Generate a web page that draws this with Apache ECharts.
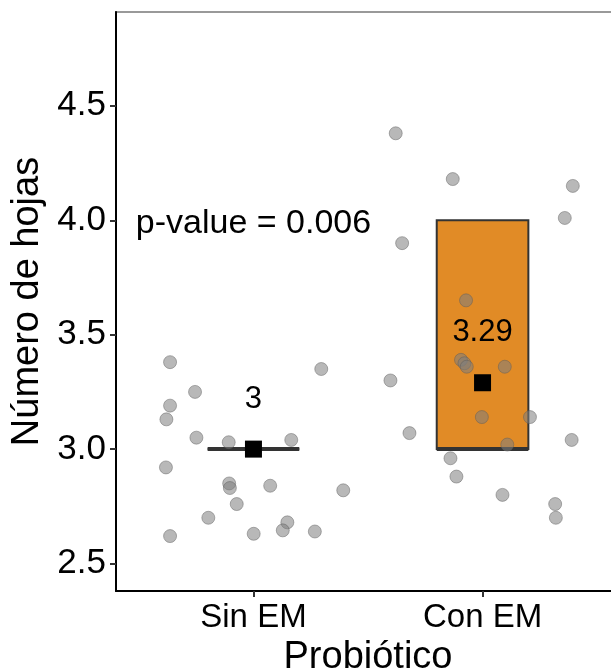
<!DOCTYPE html>
<html>
<head>
<meta charset="utf-8">
<script src="https://cdn.jsdelivr.net/npm/echarts@6/dist/echarts.min.js"></script>
<style>
  html, body { margin: 0; padding: 0; background: #fff; }
  #chart { width: 611px; height: 670px; }
</style>
</head>
<body>
<div id="chart"></div>
<script>
const categories = ["Sin EM", "Con EM"];
const yTicks = [2.5, 3.0, 3.5, 4.0, 4.5];

// jittered observations: [x position (1 = Sin EM, 2 = Con EM), value]
const sinEmPoints = [
  [0.636, 3.38], [1.296, 3.35], [0.745, 3.25], [0.636, 3.19], [0.620, 3.13],
  [0.751, 3.05], [0.892, 3.03], [1.165, 3.04], [0.618, 2.92], [0.894, 2.85],
  [0.897, 2.83], [1.073, 2.84], [1.392, 2.82], [0.927, 2.76], [0.803, 2.70],
  [0.636, 2.62], [1.001, 2.63], [1.148, 2.68], [1.128, 2.645], [1.268, 2.64]
];
const conEmPoints = [
  [1.621, 4.38], [1.870, 4.18], [2.394, 4.15], [2.359, 4.01], [1.649, 3.90],
  [1.928, 3.65], [1.906, 3.39], [1.921, 3.375], [1.931, 3.36], [2.097, 3.36],
  [1.598, 3.30], [1.997, 3.14], [2.207, 3.14], [1.681, 3.07], [2.389, 3.04],
  [2.108, 3.02], [1.860, 2.96], [1.886, 2.88], [2.087, 2.80], [2.317, 2.76],
  [2.320, 2.70]
];

// box stats: [x, q1, median, q3]
const boxStats = [[1, 3, 3, 3], [2, 3, 3, 4]];
const boxFill = ["#ffffff", "#E18B26"];
// group means
const means = [[1, 3], [2, 3.29]];
const pValueText = "p-value = 0.006";

const chart = echarts.init(document.getElementById("chart"));

chart.setOption({
  animation: false,
  textStyle: { fontFamily: "Liberation Sans, Arial, sans-serif" },
  // plot panel runs past the right edge of the picture (cropped)
  grid: {
    left: 116, top: 12, width: 504, bottom: 79,
    outerBoundsMode: "none",
    containLabel: false,
    show: true, borderColor: "#999", borderWidth: 2
  },
  xAxis: {
    type: "value",
    min: 0.4, max: 2.6,
    name: "Probiótico",
    nameLocation: "middle",
    nameGap: 37,
    nameTextStyle: { fontSize: 38, color: "#000" },
    splitLine: { show: false },
    axisLine: { lineStyle: { color: "#000", width: 2 } },
    axisTick: { customValues: [1, 2], length: 6, lineStyle: { color: "#333", width: 2 } },
    axisLabel: {
      customValues: [1, 2],
      formatter: v => categories[Math.round(v) - 1],
      fontSize: 33, color: "#000", margin: 10
    }
  },
  yAxis: {
    type: "value",
    min: 2.38, max: 4.91,
    name: "Número de hojas",
    nameLocation: "middle",
    nameGap: 52,
    nameTextStyle: { fontSize: 38, color: "#000" },
    splitLine: { show: false },
    axisLine: { lineStyle: { color: "#000", width: 2 } },
    axisTick: { customValues: yTicks, length: 6, lineStyle: { color: "#333", width: 2 } },
    axisLabel: {
      customValues: yTicks,
      formatter: v => v.toFixed(1),
      fontSize: 35, color: "#000", margin: 10
    }
  },
  series: [
    {
      type: "custom",
      z: 1,
      data: boxStats,
      renderItem: function (params, api) {
        const x = api.value(0), q1 = api.value(1), med = api.value(2), q3 = api.value(3);
        const hw = 0.2;
        const tl = api.coord([x - hw, q3]);
        const br = api.coord([x + hw, q1]);
        const ml = api.coord([x - hw, med]);
        const mr = api.coord([x + hw, med]);
        return {
          type: "group",
          children: [
            {
              type: "rect",
              shape: { x: tl[0], y: tl[1], width: br[0] - tl[0], height: br[1] - tl[1] },
              style: { fill: boxFill[params.dataIndex], stroke: "#333", lineWidth: 2 }
            },
            {
              type: "line",
              shape: { x1: ml[0], y1: ml[1], x2: mr[0], y2: mr[1] },
              style: { stroke: "#333", lineWidth: 4 }
            }
          ]
        };
      }
    },
    {
      type: "scatter",
      z: 2,
      symbolSize: 13,
      itemStyle: {
        opacity: 1,
        color: "rgba(125,125,125,0.55)",
        borderColor: "rgba(90,90,90,0.45)",
        borderWidth: 1
      },
      data: sinEmPoints.concat(conEmPoints)
    },
    {
      type: "scatter",
      z: 3,
      symbol: "rect",
      symbolSize: 17,
      itemStyle: { color: "#000", opacity: 1 },
      label: {
        show: true,
        position: "inside",
        offset: [0, -50],
        formatter: p => String(p.value[1]),
        fontSize: 31,
        color: "#000"
      },
      data: means
    },
    {
      type: "scatter",
      z: 4,
      symbolSize: 0,
      itemStyle: { opacity: 1 },
      label: {
        show: true,
        position: "inside",
        offset: [0, 3],
        formatter: pValueText,
        fontSize: 34,
        color: "#000"
      },
      data: [[1, 4.0]]
    }
  ]
});
</script>
</body>
</html>
